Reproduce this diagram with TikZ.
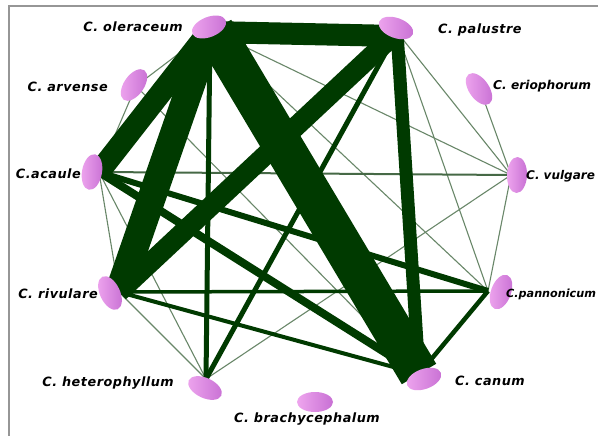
\documentclass[tikz,border=0pt]{standalone}
\usepackage{fontspec}
\setmainfont{DejaVu Sans}
\newfontfamily\labfont[LetterSpace=4]{DejaVu Sans}
\newfontfamily\labfontT{DejaVu Sans}
\usetikzlibrary{shapes.geometric}
\definecolor{dg}{RGB}{0,58,0}
\definecolor{tg}{RGB}{105,135,105}
\definecolor{mg}{RGB}{70,105,70}
\definecolor{pinkL}{RGB}{238,165,238}
\definecolor{pinkD}{RGB}{200,112,212}
\definecolor{framec}{RGB}{150,150,150}
\tikzset{
  blob/.style={ellipse, minimum width=36pt, minimum height=20pt, inner sep=0pt,
    left color=pinkL, right color=pinkD, draw=none},
  lab/.style={font=\labfont\bfseries\itshape\fontsize{12.8}{13}\selectfont, inner sep=0pt, text=black},
  labT/.style={font=\labfontT\bfseries\itshape\fontsize{#1}{13}\selectfont, inner sep=0pt, text=black},
  fine/.style={draw=tg, line width=1.1pt},
  heavy/.style={draw=dg, line width=#1},
}
\begin{document}
\begin{tikzpicture}[x=1pt,y=-1pt]
\useasboundingbox (0,0) rectangle (598,436);
\clip (0,0) rectangle (598,436);
\fill[white] (0,0) rectangle (598,436);
\draw[framec, line width=1.2pt] (9,440) -- (9,6) -- (600,6);

% hubs
\coordinate (hO) at (210,30);
\coordinate (hP) at (397,32);
\coordinate (hE) at (485,103);
\coordinate (hV) at (511,175);
\coordinate (hPa) at (488,291);
\coordinate (hCa) at (419,374);
\coordinate (hH) at (206,379);
\coordinate (hR) at (119,292);
\coordinate (hA) at (99,172);
\coordinate (hAr) at (136,86);

% thin edges
\draw[fine] (hO) -- (hAr);
\draw[fine] (hAr) -- (hA);
\draw[fine] (hAr) -- (hCa);
\draw[fine] (hO) -- (hV);
\draw[fine] (hO) -- (hPa);
\draw[fine] (hP) -- (hV);
\draw[fine] (hP) -- (hPa);
\draw[fine] (hE) -- (hV);
\draw[fine] (hV) -- (hPa);
\draw[fine] (hH) -- (hV);
\draw[fine] (hA) -- (hR);
\draw[fine] (hA) -- (hH);
\draw[fine] (hR) -- (hH);
\draw[draw=mg, line width=2pt] (hA) -- (hV);

% heavy edges
\draw[heavy=3.5pt] (hR) -- (hPa);
\draw[heavy=4pt] (hR) -- (hCa);
\draw[heavy=4.5pt] (hCa) -- (hPa);
\draw[heavy=6pt] (hA) -- (hPa);
\draw[heavy=8pt] (hA) -- (hCa);
\draw[heavy=5pt] (hO) -- (hH);
\draw[heavy=5pt] (hP) -- (hH);
\draw[heavy=13pt] (hP) -- (hCa);
\draw[heavy=20pt] (hP) -- (hR);
\draw[heavy=22pt] (hO) -- (hA);
\draw[heavy=28pt] (hO) -- (hR);
\draw[heavy=22pt] ([yshift=-2pt]hO) -- ([yshift=-4pt]hP);
\draw[heavy=40pt] ([xshift=4pt]hO) -- (hCa);

% ellipses
\node[blob, rotate=22] (O) at (209,27) {};
\node[blob, rotate=-20] (P) at (396,28) {};
\node[blob, rotate=-55] (E) at (479,89) {};
\node[blob, rotate=88] (V) at (517,175) {};
\node[blob, rotate=70] (Pa) at (501,292) {};
\node[blob, rotate=20] (Ca) at (424,379) {};
\node[blob, rotate=0] (B) at (315,402) {};
\node[blob, rotate=-25] (H) at (205,388) {};
\node[blob, rotate=-65] (R) at (110,293) {};
\node[blob, rotate=80] (A) at (92,172) {};
\node[blob, rotate=55] (Ar) at (134,85) {};

% labels
\node[lab, anchor=east] (lO) at (183,27) {C. oleraceum};
\node[lab, anchor=east] (lAr) at (108,87) {C. arvense};
\node[lab, anchor=east] (lA) at (81,174) {C.acaule};
\node[lab, anchor=east] (lR) at (98,294) {C. rivulare};
\node[lab, anchor=east] (lH) at (174,383) {C. heterophyllum};
\node[lab] (lB) at (307,419) {C. brachycephalum};
\node[lab, anchor=west] (lCa) at (455,381) {C. canum};
\node[labT=11.2, anchor=west] (lPa) at (506,294) {C.pannonicum};
\node[labT=12, anchor=west] (lV) at (526,176) {C. vulgare};
\node[labT=12.2, anchor=west] (lE) at (493,86) {C. eriophorum};
\node[lab, anchor=west] (lP) at (438,30) {C. palustre};
\end{tikzpicture}
\end{document}
